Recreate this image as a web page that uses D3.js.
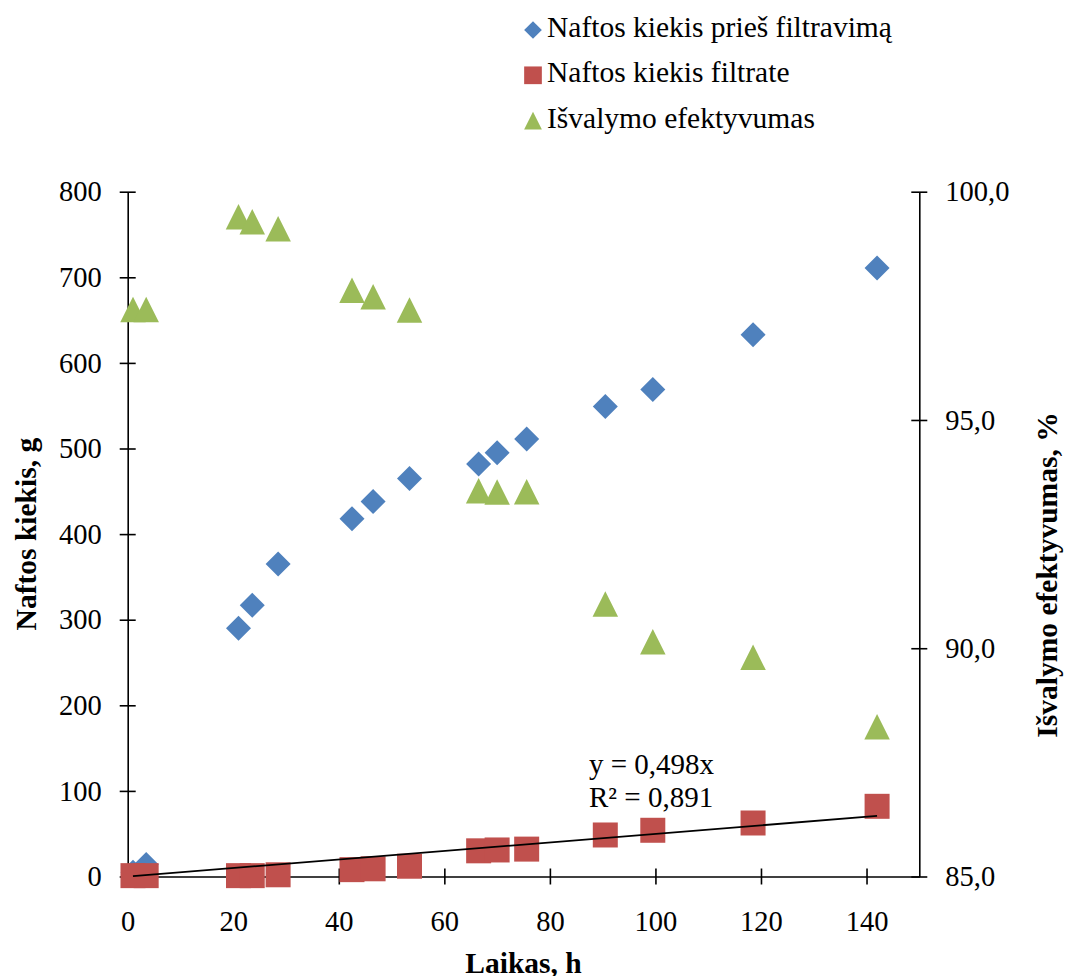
<!DOCTYPE html>
<html>
<head>
<meta charset="utf-8">
<script src="https://cdn.jsdelivr.net/npm/d3@7"></script>
<style>
  body { margin: 0; background: #fff; }
  text { font-family: "Liberation Serif", "Times New Roman", serif; fill: #000; }
</style>
</head>
<body>
<div id="chart"></div>
<script>
// data
var hours = [1, 3.5, 21, 23.6, 28.5, 42.5, 46.5, 53.4, 66.5, 70, 75.6, 90.5, 99.5, 118.5, 142];
var beforeFilter = [5, 14, 290, 317, 365, 418, 438, 465, 482, 495, 511, 549, 569, 633, 711];
var inFiltrate = [1, 1, 1, 1, 2, 8, 9, 12, 30, 31, 32, 48.5, 54, 62.5, 82];
var efficiency = [97.42, 97.42, 99.45, 99.34, 99.19, 97.84, 97.70, 97.41, 93.45, 93.42, 93.43, 90.97, 90.14, 89.80, 88.28];
var xTicks = [0, 20, 40, 60, 80, 100, 120, 140];
var yTicks = [0, 100, 200, 300, 400, 500, 600, 700, 800];
var y2Ticks = [85, 90, 95, 100];
var trendSlope = 0.498;
var trendText = ["y = 0,498x", "R\u00b2 = 0,891"];
var seriesNames = ["Naftos kiekis prieš filtravimą", "Naftos kiekis filtrate", "Išvalymo efektyvumas"];

var W = 1065, H = 976;
var plotLeft = 127.7, plotRight = 919.3, plotTop = 191.7, plotBottom = 876.5;

var svg = d3.select("#chart").append("svg")
  .attr("width", W)
  .attr("height", H);

var x = d3.scaleLinear().domain([0, 150]).range([plotLeft, plotRight]);
var y = d3.scaleLinear().domain([0, 800]).range([plotBottom, plotTop]);
var y2 = d3.scaleLinear().domain([85, 100]).range([plotBottom, plotTop]);

var colors = ["#4F81BD", "#C0504D", "#9BBB59"];

// marker shapes, s = full size
function markerPath(kind, s) {
  var h = s / 2;
  if (kind === 0) return "M0," + (-h) + "L" + h + ",0L0," + h + "L" + (-h) + ",0Z";
  if (kind === 1) return "M" + (-h) + "," + (-h) + "h" + s + "v" + s + "h" + (-s) + "Z";
  return "M0," + (-h) + "L" + h + "," + h + "L" + (-h) + "," + h + "Z";
}

// axes
var xAxis = svg.append("g")
  .attr("transform", "translate(0," + plotBottom + ")")
  .call(d3.axisBottom(x).tickValues(xTicks).tickSizeInner(8).tickSizeOuter(0).tickPadding(26));

var yAxis = svg.append("g")
  .attr("transform", "translate(" + plotLeft + ",0)")
  .call(d3.axisLeft(y).tickValues(yTicks).tickSizeInner(8).tickSizeOuter(0).tickPadding(18));

var y2Axis = svg.append("g")
  .attr("transform", "translate(" + plotRight + ",0)")
  .call(d3.axisRight(y2).tickValues(y2Ticks).tickSizeInner(8).tickSizeOuter(0).tickPadding(18)
    .tickFormat(function (d) { return d3.format(".1f")(d).replace(".", ","); }));

xAxis.selectAll(".tick line").attr("y1", -8);
yAxis.selectAll(".tick line").attr("x1", 8);
y2Axis.selectAll(".tick line").attr("x1", -8);

[xAxis, yAxis, y2Axis].forEach(function (g) {
  g.selectAll("path, line").attr("stroke", "#000").attr("stroke-width", 1.6);
  g.selectAll("text")
    .style("font-family", "'Liberation Serif', 'Times New Roman', serif")
    .style("font-size", "28.5px")
    .attr("fill", "#000");
});

// points
var pts = hours.map(function (h, i) {
  return { h: h, a: beforeFilter[i], b: inFiltrate[i], c: efficiency[i] };
});

svg.append("g").selectAll("path")
  .data(pts).enter().append("path")
  .attr("d", markerPath(0, 25))
  .attr("transform", function (d) { return "translate(" + x(d.h) + "," + y(d.a) + ")"; })
  .attr("fill", colors[0]);

svg.append("g").selectAll("path")
  .data(pts).enter().append("path")
  .attr("d", markerPath(1, 25))
  .attr("transform", function (d) { return "translate(" + x(d.h) + "," + y(d.b) + ")"; })
  .attr("fill", colors[1]);

svg.append("g").selectAll("path")
  .data(pts).enter().append("path")
  .attr("d", markerPath(2, 25.5))
  .attr("transform", function (d) { return "translate(" + x(d.h) + "," + y2(d.c) + ")"; })
  .attr("fill", colors[2]);

// linear trend through origin
var hExt = d3.extent(hours);
svg.append("line")
  .attr("x1", x(hExt[0])).attr("y1", y(trendSlope * hExt[0]))
  .attr("x2", x(hExt[1])).attr("y2", y(trendSlope * hExt[1]))
  .attr("stroke", "#000")
  .attr("stroke-width", 1.8);

svg.append("g").selectAll("text")
  .data(trendText).enter().append("text")
  .attr("x", 589)
  .attr("y", function (d, i) { return 774 + i * 32.5; })
  .style("font-size", "29px")
  .text(function (d) { return d; });

// axis titles
svg.append("text")
  .attr("transform", "translate(36," + ((plotTop + plotBottom) / 2) + ") rotate(-90)")
  .attr("text-anchor", "middle")
  .style("font-size", "29.5px")
  .style("font-weight", "bold")
  .text("Naftos kiekis, g");

svg.append("text")
  .attr("transform", "translate(1057,575) rotate(-90)")
  .attr("text-anchor", "middle")
  .style("font-size", "29.5px")
  .style("font-weight", "bold")
  .text("Išvalymo efektyvumas, %");

svg.append("text")
  .attr("x", (plotLeft + plotRight) / 2)
  .attr("y", 973)
  .attr("text-anchor", "middle")
  .style("font-size", "29.5px")
  .style("font-weight", "bold")
  .text("Laikas, h");

// legend
var legend = svg.append("g").selectAll("g")
  .data(seriesNames).enter().append("g")
  .attr("transform", function (d, i) { return "translate(533," + (30 + i * 45.3) + ")"; });

legend.append("path")
  .attr("d", function (d, i) { return markerPath(i, 17.7); })
  .attr("fill", function (d, i) { return colors[i]; });

legend.append("text")
  .attr("x", 14)
  .attr("y", 7)
  .style("font-size", "29.5px")
  .text(function (d) { return d; });
</script>
</body>
</html>
